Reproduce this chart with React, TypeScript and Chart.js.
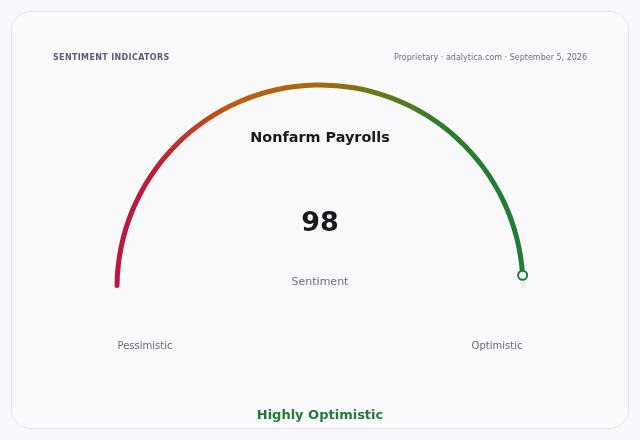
import React, { useEffect, useRef } from "react";
import { Chart, registerables } from "chart.js";

Chart.register(...registerables);

const indicatorTitle = "Nonfarm Payrolls";
const sentimentValue = 98;
const scaleMax = 100;
const segmentLabels = ["Sentiment", "Remaining"];
const segmentValues = [sentimentValue, scaleMax - sentimentValue];
const endLabels = ["Pessimistic", "Optimistic"];
const verdict = "Highly Optimistic";
const headerLeft = "SENTIMENT INDICATORS";
const headerRight = "Proprietary · adalytica.com · September 5, 2026";

const FONT = "'DejaVu Sans', sans-serif";
const RADIUS = 205.5;
const INNER = 200.5;

export default function App() {
  const canvasRef = useRef<HTMLCanvasElement | null>(null);

  useEffect(() => {
    const canvas = canvasRef.current;
    if (!canvas) return;

    const markerPlugin = {
      id: "endMarker",
      afterDatasetsDraw(chart: any) {
        const arc = chart.getDatasetMeta(0).data[0];
        if (!arc) return;
        const { x, y, endAngle, innerRadius, outerRadius } = arc.getProps(
          ["x", "y", "endAngle", "innerRadius", "outerRadius"],
          true
        );
        const r = (innerRadius + outerRadius) / 2;
        const cx = x + r * Math.cos(endAngle);
        const cy = y + r * Math.sin(endAngle);
        const c = chart.ctx;
        c.save();
        c.beginPath();
        c.arc(cx, cy, 4.5, 0, Math.PI * 2);
        c.fillStyle = "#ffffff";
        c.fill();
        c.lineWidth = 2;
        c.strokeStyle = "#1f7a36";
        c.stroke();
        c.restore();
      },
    };

    const chart = new Chart(canvas, {
      type: "doughnut",
      data: {
        labels: segmentLabels,
        datasets: [
          {
            data: segmentValues,
            backgroundColor: (ctx: any) => {
              if (ctx.dataIndex === 1) return "#ebebf1";
              const { chart } = ctx;
              const area = chart.chartArea;
              if (!area) return "#b45309";
              const cx = (area.left + area.right) / 2;
              const g = chart.ctx.createLinearGradient(cx - RADIUS, 0, cx + RADIUS, 0);
              g.addColorStop(0, "#b8163e");
              g.addColorStop(0.1, "#b8203a");
              g.addColorStop(0.28, "#c05a12");
              g.addColorStop(0.5, "#a8680b");
              g.addColorStop(0.64, "#687a1a");
              g.addColorStop(0.8, "#2f7c2c");
              g.addColorStop(1, "#1f7a36");
              return g;
            },
            borderWidth: 0,
            borderRadius: (ctx: any) => (ctx.dataIndex === 0 ? { outerStart: 2.5, innerStart: 2.5, outerEnd: 0, innerEnd: 0 } : 0),
          } as any,
        ],
      },
      options: {
        responsive: false,
        animation: false,
        rotation: -90,
        circumference: 180,
        radius: RADIUS,
        cutout: ((INNER / RADIUS) * 100).toFixed(3) + "%",
        layout: { padding: { top: 0, left: 0, right: 0, bottom: 69.5 } },
        plugins: {
          legend: { display: false },
          tooltip: { enabled: false },
        },
      } as any,
      plugins: [markerPlugin],
    });

    return () => chart.destroy();
  }, []);

  const abs = (style: React.CSSProperties): React.CSSProperties => ({
    position: "absolute",
    whiteSpace: "nowrap",
    lineHeight: 1,
    fontFamily: FONT,
    ...style,
  });

  return (
    <div style={{ position: "relative", width: 640, height: 440, background: "#f7f7fb", overflow: "hidden" }}>
      <style>{"body{margin:0;background:#f7f7fb;}"}</style>
      <div
        style={{
          position: "absolute",
          left: 11,
          top: 11,
          width: 616,
          height: 416,
          border: "1px solid #e1e1ea",
          borderRadius: 20,
          background: "#fafafd",
        }}
      />
      <canvas ref={canvasRef} width={640} height={440} style={{ position: "absolute", left: 0, top: 0, width: 640, height: 440 }} />
      <div style={abs({ left: 53, top: 54, fontSize: 8, fontWeight: 700, letterSpacing: 0.35, color: "#585d72" })}>{headerLeft}</div>
      <div style={abs({ right: 53, top: 54, fontSize: 8, color: "#6a6e80" })}>{headerRight}</div>
      <div style={abs({ left: 0, width: 640, textAlign: "center", top: 130, fontSize: 14.4, fontWeight: 700, color: "#17171c" })}>{indicatorTitle}</div>
      <div style={abs({ left: 0, width: 640, textAlign: "center", top: 208, fontSize: 27, fontWeight: 700, color: "#17171c" })}>{sentimentValue}</div>
      <div style={abs({ left: 0, width: 640, textAlign: "center", top: 276, fontSize: 11, color: "#6a6e80" })}>{segmentLabels[0]}</div>
      <div style={abs({ left: 45, width: 200, textAlign: "center", top: 341, fontSize: 10, color: "#656979" })}>{endLabels[0]}</div>
      <div style={abs({ left: 397, width: 200, textAlign: "center", top: 341, fontSize: 10, color: "#656979" })}>{endLabels[1]}</div>
      <div style={abs({ left: 0, width: 640, textAlign: "center", top: 408, fontSize: 13, fontWeight: 700, color: "#1f7a3a" })}>{verdict}</div>
    </div>
  );
}
